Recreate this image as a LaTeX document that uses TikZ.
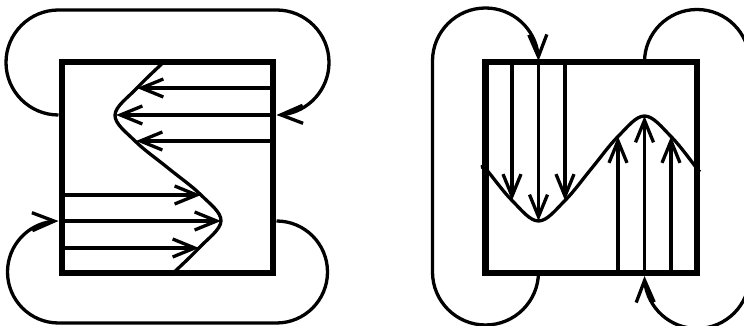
\documentclass[tikz,border=0pt]{standalone}
\usetikzlibrary{arrows.meta,bending}
\begin{document}
\begin{tikzpicture}[x=1pt,y=1pt,
  thinline/.style={line width=3.3pt},
  boxline/.style={line width=6.5pt},
  arr/.style={thinline,-{Straight Barb[length=22pt,width=18pt,flex]}}]
\clip (0,0) rectangle (744,326);
% ---------------- left panel ----------------
\coordinate (LBsw) at (62,53);
\coordinate (LBne) at (273,264);
% S-curve
\draw[thinline] plot[smooth,tension=0.6] coordinates
  {(166,266) (137,238) (115,211) (135,185) (168,158) (201,131) (221,105) (199,78) (171,51)};
% leftward arrows
\coordinate (LaS1) at (273,238); \coordinate (LaT1) at (137,238);
\coordinate (LaS2) at (273,211); \coordinate (LaT2) at (116,211);
\coordinate (LaS3) at (273,185); \coordinate (LaT3) at (136,185);
\draw[arr] (LaS1) -- (LaT1);
\draw[arr] (LaS2) -- (LaT2);
\draw[arr] (LaS3) -- (LaT3);
% rightward arrows
\coordinate (LbS1) at (62,131); \coordinate (LbT1) at (201,131);
\coordinate (LbS2) at (62,105); \coordinate (LbT2) at (221,105);
\coordinate (LbS3) at (62,78);  \coordinate (LbT3) at (199,78);
\draw[arr] (LbS1) -- (LbT1);
\draw[arr] (LbS2) -- (LbT2);
\draw[arr] (LbS3) -- (LbT3);
% loops
\coordinate (LtopStart) at (58.5,211);
\coordinate (LtopRight) at (276.5,316);
\draw[arr] (LtopStart) arc[start angle=270,end angle=90,radius=52.5]
  -- (LtopRight) arc[start angle=90,end angle=-90,radius=52.5];
\coordinate (LbotStart) at (276.5,105);
\coordinate (LbotLeft) at (58.5,3);
\draw[arr] (LbotStart) arc[start angle=90,end angle=-90,radius=51]
  -- (LbotLeft) arc[start angle=270,end angle=90,radius=51];
\draw[boxline] (LBsw) rectangle (LBne);
% ---------------- right panel ----------------
\coordinate (RBsw) at (485.5,53);
\coordinate (RBne) at (697,264);
\draw[thinline] plot[smooth,tension=0.6] coordinates
  {(483,157.5) (485.5,157.5) (512,125.5) (538.5,105) (565,125.5) (591.5,157.5) (618,189.5) (644.5,210) (671,189.5) (697,157.5) (699,155)};
% downward arrows
\coordinate (RaS1) at (512,264);   \coordinate (RaT1) at (512,125.5);
\coordinate (RaS2) at (538.5,264); \coordinate (RaT2) at (538.5,105);
\coordinate (RaS3) at (565,264);   \coordinate (RaT3) at (565,125.5);
\draw[arr] (RaS1) -- (RaT1);
\draw[arr] (RaS2) -- (RaT2);
\draw[arr] (RaS3) -- (RaT3);
% upward arrows
\coordinate (RbS1) at (618,53);   \coordinate (RbT1) at (618,189.5);
\coordinate (RbS2) at (644.5,53); \coordinate (RbT2) at (644.5,210);
\coordinate (RbS3) at (671,53);   \coordinate (RbT3) at (671,189.5);
\draw[arr] (RbS1) -- (RbT1);
\draw[arr] (RbS2) -- (RbT2);
\draw[arr] (RbS3) -- (RbT3);
% loops
\coordinate (RlStart) at (538.5,54);
\coordinate (RlTop) at (432.5,265);
\draw[arr] (RlStart) arc[start angle=0,end angle=-180,radius=53]
  -- (RlTop) arc[start angle=180,end angle=0,radius=53];
\coordinate (RrStart) at (644.5,264);
\coordinate (RrBot) at (749.5,50);
\draw[arr] (RrStart) arc[start angle=180,end angle=0,radius=52.5]
  -- (RrBot) arc[start angle=0,end angle=-180,radius=52.5];
\draw[boxline] (RBsw) rectangle (RBne);
\end{tikzpicture}
\end{document}
